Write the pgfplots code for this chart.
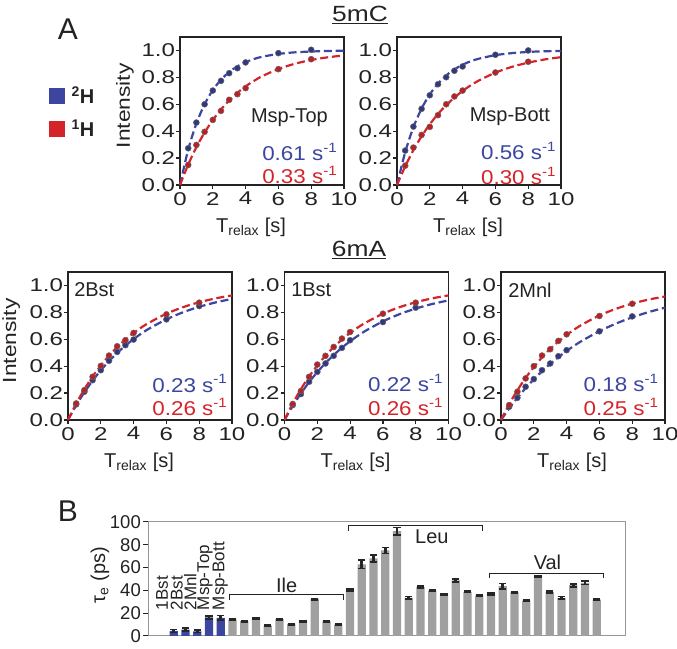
\documentclass[border=0pt]{standalone}
\usepackage{pgfplots}
\pgfplotsset{compat=1.18}
\usepackage{fontspec}
\setmainfont{Liberation Sans}
\newfontfamily\wideA{Liberation Sans}[FakeStretch=1.3]
\newfontfamily\wideB{Liberation Sans}[FakeStretch=1.2]
\newfontfamily\wideC{Liberation Sans}[FakeStretch=1.12]
\definecolor{myblue}{RGB}{60,70,160}
\definecolor{myred}{RGB}{212,36,42}
\definecolor{bargray}{RGB}{160,160,160}
\definecolor{framegray}{RGB}{150,150,150}
\definecolor{txt}{RGB}{35,35,35}
\newcommand{\fsz}[1]{\fontsize{#1bp}{#1bp}\selectfont}
\newcommand{\sm}{s\raisebox{0.42em}{\fontsize{13.5bp}{13.5bp}\selectfont -1}}
\pgfplotsset{
  relaxax/.style={
    scale only axis, width=164bp, height=148bp,
    xmin=0, xmax=10, ymin=0, ymax=1.1,
    xtick={0,2,4,6,8,10}, ytick={0,0.2,0.4,0.6,0.8,1.0},
    tick align=outside, xtick pos=bottom, ytick pos=left,
    major tick length=4bp,
    axis line style={line width=1.5bp, txt},
    tick style={line width=1.2bp, txt},
    ticklabel style={font=\wideA\fsz{18.5}, text=txt},
    /pgf/number format/assume math mode=true,
    yticklabel style={inner sep=0.8bp, /pgf/number format/.cd, fixed, fixed zerofill, precision=1},
    xticklabel style={inner sep=3bp},
    clip=false,
    xlabel={T\textsubscript{relax} [s]},
    xlabel style={font=\fsz{20}, text=txt, at={(axis description cs:0.5,-0.22)}, anchor=north, inner sep=0pt, xshift=-11bp},
  },
  ylab/.style={ylabel={Intensity}, ylabel style={font=\wideB\fsz{19}, text=txt, at={(axis description cs:#1,0.535)}, anchor=center, inner sep=0pt}},
  fitb/.style={myblue, line width=2.2bp, dash pattern=on 8bp off 3.8bp, smooth, forget plot},
  fitr/.style={myred, line width=2.2bp, dash pattern=on 8bp off 3.8bp, smooth, forget plot},
  ptb/.style={only marks, mark=*, mark size=3bp, mark options={fill=myblue!80!black, draw=black!60, line width=0.5bp}, forget plot},
  ptr/.style={only marks, mark=*, mark size=3bp, mark options={fill=myred!88!black, draw=black!60, line width=0.5bp}, forget plot},
}
\tikzset{
  annb/.style={anchor=east, inner sep=0pt, font=\wideC\fsz{20}, text=myblue},
  annr/.style={anchor=east, inner sep=0pt, font=\wideC\fsz{20}, text=myred},
  annk/.style={inner sep=0pt, font=\fsz{20}, text=txt},
  blab/.style={rotate=90, anchor=west, inner sep=0pt, font=\fsz{17}, text=txt},
}
\begin{document}
\begin{tikzpicture}
\useasboundingbox (0,0) rectangle (677bp,649bp);
% ---------- 5mC : Msp-Top
\begin{axis}[relaxax, ylab=-0.335, at={(180bp,464bp)}, anchor=south west,
  legend style={at={(axis description cs:-0.799,0.68)}, anchor=north west, draw=none, fill=none, inner sep=0pt, font=\bfseries\fsz{20}, text=txt, row sep=10.5bp,
    /tikz/every odd column/.append style={column sep=5bp}},
  legend cell align=left]
\addplot[fitb] coordinates {(0,0)(0.5,0.263)(1,0.457)(1.5,0.600)(2,0.705)(2.5,0.782)(3,0.840)(3.5,0.882)(4,0.913)(4.5,0.936)(5,0.953)(6,0.974)(7,0.986)(8,0.992)(9,0.996)(10,0.998)};
\addplot[fitr] coordinates {(0,0)(0.5,0.152)(1,0.281)(1.5,0.390)(2,0.483)(2.5,0.562)(3,0.628)(3.5,0.685)(4,0.733)(4.5,0.773)(5,0.808)(6,0.862)(7,0.901)(8,0.929)(9,0.949)(10,0.963)};
\addplot[ptb] coordinates {(0.5,0.273)(1,0.464)(1.5,0.60)(2,0.702)(2.5,0.774)(3,0.831)(3.5,0.868)(4,0.911)(6,0.98)(8,1.005)};
\addplot[ptr] coordinates {(0.5,0.149)(1,0.298)(1.5,0.395)(2,0.484)(2.5,0.551)(3,0.633)(3.5,0.675)(4,0.72)(6,0.861)(8,0.935)};
\addlegendimage{legend image code/.code={\fill[myblue] (0bp,-7.5bp) rectangle (15bp,7.5bp);}}
\addlegendentry{\textsuperscript{2}H}
\addlegendimage{legend image code/.code={\fill[myred] (0bp,-7.5bp) rectangle (15bp,7.5bp);}}
\addlegendentry{\textsuperscript{1}H}
\node[annk, anchor=east] at (rel axis cs:0.902,0.453) {Msp-Top};
\node[annb] at (rel axis cs:0.957,0.223) {0.61 \sm};
\node[annr] at (rel axis cs:0.957,0.068) {0.33 \sm};
\end{axis}
% ---------- 5mC : Msp-Bott
\begin{axis}[relaxax, at={(397bp,464bp)}, anchor=south west]
\addplot[fitb] coordinates {(0,0)(0.5,0.244)(1,0.429)(1.5,0.568)(2,0.674)(2.5,0.753)(3,0.814)(3.5,0.859)(4,0.894)(4.5,0.920)(5,0.939)(6,0.965)(7,0.980)(8,0.989)(9,0.994)(10,0.996)};
\addplot[fitr] coordinates {(0,0)(0.5,0.139)(1,0.259)(1.5,0.362)(2,0.451)(2.5,0.528)(3,0.593)(3.5,0.650)(4,0.699)(4.5,0.741)(5,0.777)(6,0.835)(7,0.878)(8,0.909)(9,0.933)(10,0.950)};
\addplot[ptb] coordinates {(0.5,0.256)(1,0.434)(1.5,0.566)(2,0.667)(2.5,0.749)(3,0.801)(3.5,0.849)(4,0.881)(6,0.968)(8,1.0)};
\addplot[ptr] coordinates {(0.5,0.144)(1,0.278)(1.5,0.372)(2,0.432)(2.5,0.519)(3,0.60)(3.5,0.658)(4,0.702)(6,0.836)(8,0.916)};
\node[annk, anchor=east] at (rel axis cs:0.933,0.459) {Msp-Bott};
\node[annb] at (rel axis cs:0.968,0.232) {0.56 \sm};
\node[annr] at (rel axis cs:0.968,0.063) {0.30 \sm};
\end{axis}
% ---------- 6mA : 2Bst
\begin{axis}[relaxax, ylab=-0.346, at={(68bp,229bp)}, anchor=south west]
\addplot[fitb] coordinates {(0,0)(0.5,0.109)(1,0.206)(1.5,0.292)(2,0.369)(2.5,0.437)(3,0.498)(3.5,0.553)(4,0.601)(4.5,0.645)(5,0.683)(6,0.748)(7,0.800)(8,0.841)(9,0.874)(10,0.900)};
\addplot[fitr] coordinates {(0,0)(0.5,0.122)(1,0.229)(1.5,0.323)(2,0.405)(2.5,0.478)(3,0.542)(3.5,0.597)(4,0.647)(4.5,0.690)(5,0.727)(6,0.790)(7,0.838)(8,0.875)(9,0.904)(10,0.926)};
\addplot[ptb] coordinates {(0.5,0.116)(1,0.21)(1.5,0.296)(2,0.37)(2.5,0.44)(3,0.506)(3.5,0.556)(4,0.598)(6,0.748)(8,0.847)};
\addplot[ptr] coordinates {(0.5,0.123)(1,0.222)(1.5,0.321)(2,0.402)(2.5,0.479)(3,0.548)(3.5,0.593)(4,0.647)(6,0.785)(8,0.872)};
\node[annk, anchor=west] at (rel axis cs:0.037,0.878) {2Bst};
\node[annb] at (rel axis cs:0.97,0.248) {0.23 \sm};
\node[annr] at (rel axis cs:0.97,0.09) {0.26 \sm};
\end{axis}
% ---------- 6mA : 1Bst
\begin{axis}[relaxax, at={(284.5bp,229bp)}, anchor=south west]
\addplot[fitb] coordinates {(0,0)(0.5,0.104)(1,0.197)(1.5,0.281)(2,0.356)(2.5,0.423)(3,0.483)(3.5,0.537)(4,0.585)(4.5,0.628)(5,0.667)(6,0.733)(7,0.786)(8,0.828)(9,0.862)(10,0.889)};
\addplot[fitr] coordinates {(0,0)(0.5,0.122)(1,0.229)(1.5,0.323)(2,0.405)(2.5,0.478)(3,0.542)(3.5,0.597)(4,0.647)(4.5,0.690)(5,0.727)(6,0.790)(7,0.838)(8,0.875)(9,0.904)(10,0.926)};
\addplot[ptb] coordinates {(0.5,0.111)(1,0.193)(1.5,0.284)(2,0.358)(2.5,0.42)(3,0.477)(3.5,0.536)(4,0.593)(6,0.728)(8,0.835)};
\addplot[ptr] coordinates {(0.5,0.119)(1,0.215)(1.5,0.321)(2,0.412)(2.5,0.477)(3,0.543)(3.5,0.605)(4,0.654)(6,0.79)(8,0.872)};
\node[annk, anchor=west] at (rel axis cs:0.04,0.878) {1Bst};
\node[annb] at (rel axis cs:0.965,0.25) {0.22 \sm};
\node[annr] at (rel axis cs:0.965,0.09) {0.26 \sm};
\end{axis}
% ---------- 6mA : 2Mnl
\begin{axis}[relaxax, at={(501bp,229bp)}, anchor=south west]
\addplot[fitb] coordinates {(0,0)(0.5,0.086)(1,0.165)(1.5,0.237)(2,0.302)(2.5,0.362)(3,0.417)(3.5,0.467)(4,0.513)(4.5,0.555)(5,0.593)(6,0.660)(7,0.716)(8,0.763)(9,0.802)(10,0.835)};
\addplot[fitr] coordinates {(0,0)(0.5,0.118)(1,0.221)(1.5,0.313)(2,0.393)(2.5,0.465)(3,0.528)(3.5,0.583)(4,0.632)(4.5,0.675)(5,0.713)(6,0.777)(7,0.826)(8,0.865)(9,0.895)(10,0.918)};
\addplot[ptb] coordinates {(0.5,0.099)(1,0.165)(1.5,0.247)(2,0.304)(2.5,0.37)(3,0.42)(3.5,0.474)(4,0.519)(6,0.659)(8,0.77)};
\addplot[ptr] coordinates {(0.5,0.111)(1,0.21)(1.5,0.309)(2,0.40)(2.5,0.479)(3,0.526)(3.5,0.588)(4,0.637)(6,0.773)(8,0.864)};
\node[annk, anchor=west] at (rel axis cs:0.043,0.878) {2Mnl};
\node[annb] at (rel axis cs:0.959,0.25) {0.18 \sm};
\node[annr] at (rel axis cs:0.959,0.09) {0.25 \sm};
\end{axis}
% ---------- Panel B
\begin{axis}[at={(148bp,13bp)}, anchor=south west, scale only axis, width=477bp, height=114bp,
  xmin=-2.2, xmax=38.4, ymin=0, ymax=100, xtick=\empty, ytick={0,20,40,60,80,100},
  ytick pos=left, tick align=outside, major tick length=5bp,
  axis line style={framegray, line width=1bp}, tick style={txt, line width=1bp},
  ticklabel style={font=\fsz{18.5}, text=txt}, /pgf/number format/assume math mode=true,
  yticklabel style={inner sep=2bp},
  ylabel={τ\textsubscript{e} (ps)}, ylabel style={font=\fsz{20}, text=txt, at={(axis description cs:-0.1006,0.535)}, anchor=center, inner sep=0pt},
  clip=false]
\addplot[ybar, bar width=8.3bp, bar shift=0pt, fill=myblue, draw=none,
  error bars/.cd, y dir=both, y explicit,
  error bar style={line width=2.8bp, black!85},
  error mark options={rotate=90, mark size=3.6bp, line width=1.8bp, black!85}]
  coordinates {(0,4.4) +- (0,1.3) (1,5.5) +- (0,1.3) (2,4.1) +- (0,1.0) (3,16.3) +- (0,1.5) (4,16.0) +- (0,2.0)};
\addplot[ybar, bar width=8.3bp, bar shift=0pt, fill=bargray, draw=none,
  error bars/.cd, y dir=both, y explicit,
  error bar style={line width=2.8bp, black!85},
  error mark options={rotate=90, mark size=3.6bp, line width=1.8bp, black!85}]
  coordinates {
  (5,14.5) +- (0,0.6) (6,13.0) +- (0,0.5) (7,15.5) +- (0,0.6) (8,9.0) +- (0,0.5) (9,14.7) +- (0,0.6)
  (10,10.5) +- (0,0.5) (11,12.5) +- (0,0.5) (12,32.3) +- (0,0.6) (13,12.8) +- (0,0.6) (14,10.0) +- (0,0.5)
  (15,40.5) +- (0,1.0) (16,62.8) +- (0,3.6) (17,68.0) +- (0,3.0) (18,75.0) +- (0,2.6) (19,91.9) +- (0,3.3)
  (20,33.5) +- (0,1.2) (21,43.0) +- (0,0.8) (22,39.7) +- (0,0.6) (23,36.2) +- (0,0.6) (24,48.7) +- (0,1.5)
  (25,38.8) +- (0,0.6) (26,35.4) +- (0,0.6)
  (27,36.7) +- (0,1.0) (28,43.7) +- (0,2.3) (29,38.2) +- (0,0.8) (30,31.0) +- (0,0.6) (31,52.3) +- (0,0.6)
  (32,38.6) +- (0,0.8) (33,33.5) +- (0,1.2) (34,44.6) +- (0,1.3) (35,46.7) +- (0,1.6) (36,31.9) +- (0,0.6)};
\draw[txt, line width=1bp] (axis cs:4.77,31.5) -- (axis cs:4.77,36) -- (axis cs:14.4,36) -- (axis cs:14.4,31.5);
\draw[txt, line width=1bp] (axis cs:14.9,92) -- (axis cs:14.9,97) -- (axis cs:26.3,97) -- (axis cs:26.3,92);
\draw[txt, line width=1bp] (axis cs:26.9,50.5) -- (axis cs:26.9,55) -- (axis cs:36.6,55) -- (axis cs:36.6,50.5);
\node[font=\fsz{20}, text=txt] at (axis cs:9.6,44.6) {Ile};
\node[font=\fsz{20}, text=txt] at (axis cs:21.96,87.5) {Leu};
\node[font=\fsz{20}, text=txt] at (axis cs:31.8,64.7) {Val};
\node[blab] at (axis cs:-1.0,22.5) {1Bst};
\node[blab] at (axis cs:0.25,22.5) {2Bst};
\node[blab] at (axis cs:1.4,22.5) {2Mnl};
\node[blab] at (axis cs:2.65,22.5) {Msp-Top};
\node[blab] at (axis cs:3.95,22.5) {Msp-Bott};
\end{axis}
% ---------- titles
\node[anchor=base, font=\fsz{30}, text=txt] at (68bp,609bp) {A};
\node[anchor=base, font=\fsz{30}, text=txt] at (68bp,127bp) {B};
\node[anchor=base, font=\wideB\fsz{22}, text=txt] at (360bp,627bp) {\underline{5mC}};
\node[anchor=base, font=\wideB\fsz{22}, text=txt] at (359bp,392bp) {\underline{6mA}};
\end{tikzpicture}
\end{document}
